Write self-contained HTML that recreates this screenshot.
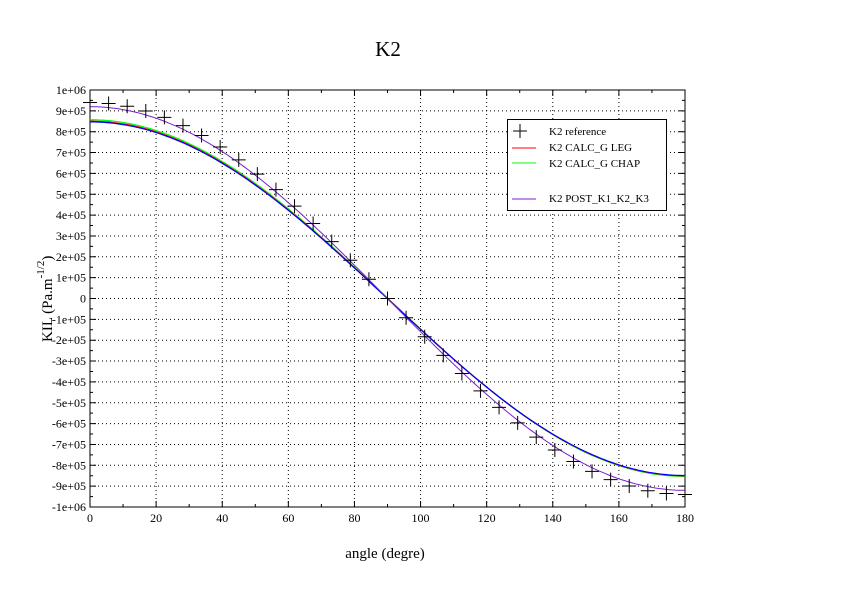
<!DOCTYPE html>
<html><head><style>body{margin:0;background:#fff}svg{display:block;font-family:"Liberation Serif",serif}</style></head>
<body>
<svg id="s" width="842" height="595" xmlns="http://www.w3.org/2000/svg">
<rect width="842" height="595" fill="#fff"/>
<text x="388" y="56" font-size="21" text-anchor="middle">K2</text>
<text x="385" y="558" font-size="15" text-anchor="middle">angle (degre)</text>
<text transform="translate(52,342) rotate(-90)" font-size="15">KIL (Pa.m<tspan dy="-8" font-size="11">-1/2</tspan><tspan dy="8">)</tspan></text>
<g id="g"></g>
<rect x="90" y="90" width="595" height="417" fill="none" stroke="#000" stroke-width="1"/>
<g id="c"></g>
<rect x="507.5" y="119.5" width="159" height="91" fill="#fff" stroke="#000"/>
<g font-size="11">
<path d="M513,131h14M520,124v14" stroke="#000"/>
<text x="549" y="135">K2 reference</text>
<path d="M512,148h24" stroke="#f00"/><text x="549" y="151">K2 CALC_G LEG</text>
<path d="M512,163h24" stroke="#0f0"/><text x="549" y="167">K2 CALC_G CHAP</text>
<path d="M512,199h24" stroke="#7b1fd0"/><text x="549" y="202">K2 POST_K1_K2_K3</text>
</g>
</svg>
<script>
const NS="http://www.w3.org/2000/svg",g=document.getElementById('g'),c=document.getElementById('c');
const X=a=>90+a/180*595,Y=v=>298.5-v/1e5*20.85;
function el(p,t,a,txt){const e=document.createElementNS(NS,t);for(const k in a)e.setAttribute(k,a[k]);if(txt!=null)e.textContent=txt;p.appendChild(e);return e;}
let d="";
for(let i=0;i<=9;i++){const x=X(i*20);
 if(i>0&&i<9)d+=`M${x},90V507`;
 el(g,'text',{x:x,y:522,'font-size':12,'text-anchor':'middle'},i*20);
 el(g,'path',{d:`M${x},507v-6M${x},90v6`,stroke:'#000'});
 if(i<9){const m=X(i*20+10);el(g,'path',{d:`M${m},507v-3M${m},90v3`,stroke:'#000'});}
}
for(let i=-10;i<=10;i++){const y=Y(i*1e5);
 if(i>-10&&i<10)d+=`M90,${y}H685`;
 const lab=i==0?"0":(i==10?"1e+06":i==-10?"-1e+06":(i<0?"-":"")+Math.abs(i)+"e+05");
 el(g,'text',{x:86,y:y+4,'font-size':12,'text-anchor':'end'},lab);
 el(g,'path',{d:`M90,${y}h6M685,${y}h-6`,stroke:'#000'});
 if(i<10){const m=Y(i*1e5+5e4);el(g,'path',{d:`M90,${m}h3M685,${m}h-3`,stroke:'#000'});}
}
el(g,'path',{d:d,stroke:'#000','stroke-dasharray':'1,3','stroke-width':1});
function curve(f,col,w){let p="";for(let a=0;a<=180;a+=1){p+=(a?"L":"M")+X(a).toFixed(1)+","+Y(f(a)).toFixed(1);}el(c,'path',{d:p,fill:'none',stroke:col,'stroke-width':w||1});}
const r=Math.PI/180;
const calc=a=>8.45e5*Math.cos(a*r)+0.35e5*Math.sin(2*a*r)*(a<90?-1:-1)*0;
const cb=a=>{const t=a*r;return 8.5e5*Math.cos(t)-0.25e5*Math.sin(2*t)*0+ (a>60&&a<100?0:0);};
curve(a=>8.55e5*Math.cos(a*r)+0.02e5,'#0f0',1.3);
curve(a=>8.5e5*Math.cos(a*r),'#f00',1.3);
curve(a=>8.48e5*Math.cos(a*r)-0.01e5,'#00f',1.2);
curve(a=>9.2e5*Math.cos(a*r),'#7b1fd0',1);
let m="";for(let i=0;i<=32;i++){const a=i*180/32,x=X(a),y=Y(9.4e5*Math.cos(a*r));m+=`M${x-7},${y}h14M${x},${y-7}v14`;}
el(c,'path',{d:m,stroke:'#000','stroke-width':1});
</script>
</body></html>
